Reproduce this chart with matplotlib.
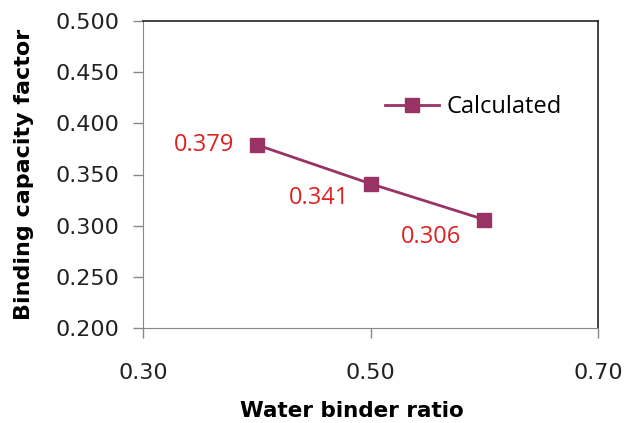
import matplotlib
matplotlib.use("Agg")
import matplotlib.pyplot as plt

# water/binder ratio vs. calculated binding capacity factor
wb_ratio = [0.40, 0.50, 0.60]
binding_factor = [0.379, 0.341, 0.306]
point_labels = ["0.379", "0.341", "0.306"]
label_offsets = [(-53, 0), (-51, -14), (-53, -17)]  # pixel offsets of the value labels

x_ticks = [0.30, 0.50, 0.70]
y_ticks = [0.200, 0.250, 0.300, 0.350, 0.400, 0.450, 0.500]

plum = "#993366"
red = "#dd2222"

fig = plt.figure(figsize=(6.25, 4.23), dpi=100)
ax = fig.add_axes([143 / 625, 1 - 328 / 423, (598 - 143) / 625, (328 - 21) / 423])

ax.plot(wb_ratio, binding_factor, color=plum, lw=2, marker="s", ms=10,
        label="Calculated", clip_on=False)
for x, y, txt, (dx, dy) in zip(wb_ratio, binding_factor, point_labels, label_offsets):
    ax.annotate(txt, (x, y), xytext=(dx * 0.72, dy * 0.72), textcoords="offset points",
                ha="center", va="center", color=red, fontsize=17, family="Open Sans")

ax.set_xlim(0.30, 0.70)
ax.set_ylim(0.200, 0.500)
ax.set_xticks(x_ticks)
ax.set_xticklabels([f"{v:.2f}" for v in x_ticks])
ax.set_yticks(y_ticks)
ax.set_yticklabels([f"{v:.3f}" for v in y_ticks])
ax.tick_params(direction="out", length=7, width=1, color="#888888",
               labelsize=16, labelcolor="#222222")
ax.tick_params(axis="x", pad=18)
ax.tick_params(axis="y", pad=10)

for side in ("left", "bottom"):
    ax.spines[side].set_color("#888888")
for side in ("top", "right"):
    ax.spines[side].set_color("#222222")
    ax.spines[side].set_linewidth(1.2)

ax.set_xlabel("Water binder ratio", fontsize=15.5, fontweight="bold", va="top")
ax.xaxis.set_label_coords(0.46, -(401 - 328) / 307)
ax.set_ylabel("Binding capacity factor", fontsize=16, fontweight="bold")
ax.yaxis.set_label_coords(-(143 - 34) / 455, 0.5)

ax.legend(loc="center left", bbox_to_anchor=(0.485, 0.72), frameon=False,
          prop={"family": "Open Sans", "size": 17}, handlelength=2.3, handletextpad=0.3)

fig.savefig("out.png", dpi=100)
